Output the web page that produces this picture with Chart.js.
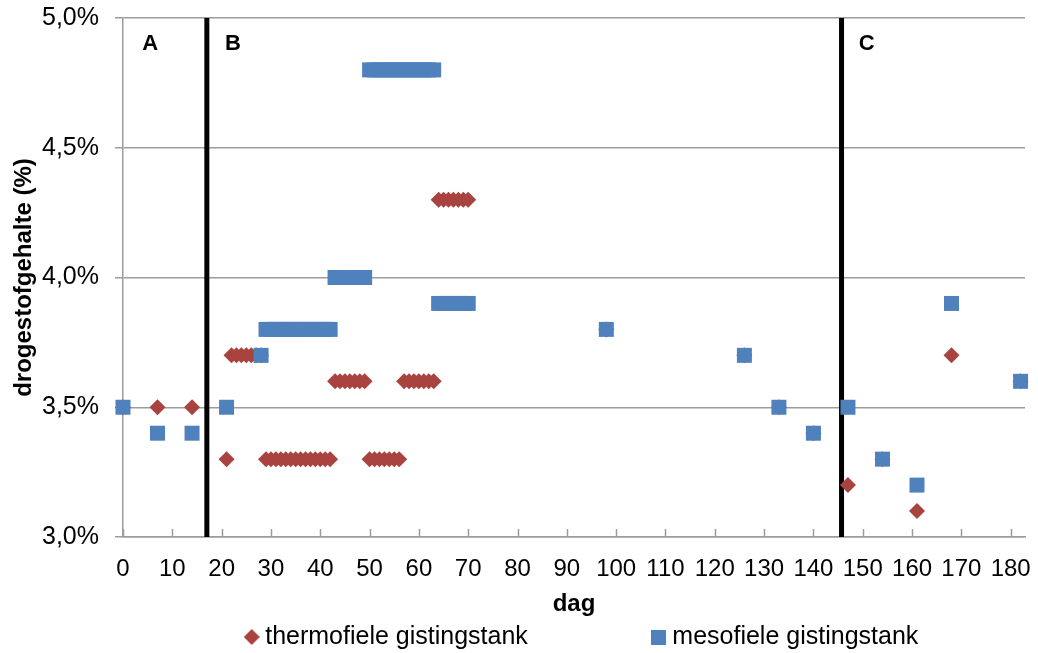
<!DOCTYPE html>
<html>
<head>
<meta charset="utf-8">
<script src="https://cdn.jsdelivr.net/npm/chart.js@4.4.1/dist/chart.umd.min.js"></script>
<style>
  html, body { margin: 0; padding: 0; background: #ffffff; }
  #wrap { width: 1038px; height: 653px; }
</style>
</head>
<body>
<div id="wrap"><canvas id="c" width="1038" height="653"></canvas></div>
<script>
// ---------- data ----------
const seriesNames = ['thermofiele gistingstank', 'mesofiele gistingstank'];

const thermoDays = [0, 7, 14, 21,
  22, 23, 24, 25, 26, 27, 28,
  29, 30, 31, 32, 33, 34, 35, 36, 37, 38, 39, 40, 41, 42,
  43, 44, 45, 46, 47, 48, 49,
  50, 51, 52, 53, 54, 55, 56,
  57, 58, 59, 60, 61, 62, 63,
  64, 65, 66, 67, 68, 69, 70,
  98, 126, 133, 140, 147, 154, 161, 168, 182];
const thermoValues = [3.5, 3.5, 3.5, 3.3,
  3.7, 3.7, 3.7, 3.7, 3.7, 3.7, 3.7,
  3.3, 3.3, 3.3, 3.3, 3.3, 3.3, 3.3, 3.3, 3.3, 3.3, 3.3, 3.3, 3.3, 3.3,
  3.6, 3.6, 3.6, 3.6, 3.6, 3.6, 3.6,
  3.3, 3.3, 3.3, 3.3, 3.3, 3.3, 3.3,
  3.6, 3.6, 3.6, 3.6, 3.6, 3.6, 3.6,
  4.3, 4.3, 4.3, 4.3, 4.3, 4.3, 4.3,
  3.8, 3.7, 3.5, 3.4, 3.2, 3.3, 3.1, 3.7, 3.6];

const mesoDays = [0, 7, 14, 21, 28,
  29, 30, 31, 32, 33, 34, 35, 36, 37, 38, 39, 40, 41, 42,
  43, 44, 45, 46, 47, 48, 49,
  50, 51, 52, 53, 54, 55, 56, 57, 58, 59, 60, 61, 62, 63,
  64, 65, 66, 67, 68, 69, 70,
  98, 126, 133, 140, 147, 154, 161, 168, 182];
const mesoValues = [3.5, 3.4, 3.4, 3.5, 3.7,
  3.8, 3.8, 3.8, 3.8, 3.8, 3.8, 3.8, 3.8, 3.8, 3.8, 3.8, 3.8, 3.8, 3.8,
  4.0, 4.0, 4.0, 4.0, 4.0, 4.0, 4.0,
  4.8, 4.8, 4.8, 4.8, 4.8, 4.8, 4.8, 4.8, 4.8, 4.8, 4.8, 4.8, 4.8, 4.8,
  3.9, 3.9, 3.9, 3.9, 3.9, 3.9, 3.9,
  3.8, 3.7, 3.5, 3.4, 3.5, 3.3, 3.2, 3.9, 3.6];

const xTicks = [0, 10, 20, 30, 40, 50, 60, 70, 80, 90, 100, 110, 120, 130, 140, 150, 160, 170, 180];
const yTicks = [3.0, 3.5, 4.0, 4.5, 5.0];

// phase boundaries (day) and phase labels
const phaseBoundaries = [17, 145.7];
const phaseLabels = ['A', 'B', 'C'];
const phaseLabelDays = [5.5, 22.3, 150.8];
const phaseLabelLevel = 4.9;

const xTitle = 'dag';
const yTitle = 'drogestofgehalte (%)';

// ---------- styling ----------
const FONT = "'Liberation Sans', Arial, sans-serif";
const RED = '#A9433F';
const BLUE = '#4F81BD';
const GRID = '#9C9C9C';

Chart.defaults.font.family = FONT;
Chart.defaults.color = '#000000';

function toPoints(xs, ys) { return xs.map((x, i) => ({ x: x, y: ys[i] })); }

function markerCanvas(kind, color) {
  const c = document.createElement('canvas');
  const s = kind === 'diamond' ? 16 : 15;
  c.width = s; c.height = s;
  const g = c.getContext('2d');
  g.fillStyle = color;
  if (kind === 'diamond') {
    g.beginPath();
    g.moveTo(s / 2, 0); g.lineTo(s, s / 2); g.lineTo(s / 2, s); g.lineTo(0, s / 2);
    g.closePath(); g.fill();
  } else {
    g.fillRect(0, 0, s, s);
  }
  return c;
}
const legendMarkers = [markerCanvas('diamond', RED), markerCanvas('square', BLUE)];

const dividerSets = phaseBoundaries.map(d => ({
  label: '__divider',
  data: [{ x: d, y: yTicks[0] }, { x: d, y: yTicks[yTicks.length - 1] }],
  showLine: true,
  borderColor: '#000000',
  borderWidth: 5,
  pointRadius: 0,
  pointHoverRadius: 0,
  order: 5,
  clip: false
}));

const LEGEND_PAD = 130;
const LEGEND_FONT = 25;
const LEGEND_MID_Y = 637;
const LEGEND_SHIFT_X = 72;

const legendNudge = {
  id: 'legendNudge',
  afterLayout(chart) {
    const lg = chart.legend;
    if (!lg) return;
    lg.top = LEGEND_MID_Y - LEGEND_PAD - LEGEND_FONT / 2;
    lg.bottom = chart.height;
    lg.left += LEGEND_SHIFT_X; lg.right += LEGEND_SHIFT_X;
  }
};

const innerTicks = {
  id: 'innerTicks',
  beforeDatasetsDraw(chart) {
    const xs = chart.scales.x;
    const ctx = chart.ctx;
    const bottom = chart.chartArea.bottom;
    ctx.save();
    ctx.strokeStyle = GRID;
    ctx.lineWidth = 1.5;
    xTicks.forEach(v => {
      const px = Math.round(xs.getPixelForValue(v)) + 0.5;
      ctx.beginPath();
      ctx.moveTo(px, bottom);
      ctx.lineTo(px, bottom - 8);
      ctx.stroke();
    });
    ctx.restore();
  }
};

const phaseText = {
  id: 'phaseText',
  afterDatasetsDraw(chart) {
    const xs = chart.scales.x, ys = chart.scales.y;
    const ctx = chart.ctx;
    ctx.save();
    ctx.font = 'bold 22px ' + FONT;
    ctx.fillStyle = '#000000';
    ctx.textAlign = 'center';
    ctx.textBaseline = 'middle';
    phaseLabels.forEach((t, i) => {
      ctx.fillText(t, xs.getPixelForValue(phaseLabelDays[i]), ys.getPixelForValue(phaseLabelLevel));
    });
    ctx.restore();
  }
};

new Chart(document.getElementById('c'), {
  type: 'scatter',
  data: {
    datasets: [
      {
        label: seriesNames[0],
        data: toPoints(thermoDays, thermoValues),
        pointStyle: 'rectRot',
        pointRadius: 8,
        pointHoverRadius: 8,
        backgroundColor: RED,
        borderColor: RED,
        borderWidth: 0,
        order: 2,
        clip: false
      },
      {
        label: seriesNames[1],
        data: toPoints(mesoDays, mesoValues),
        pointStyle: 'rect',
        pointRadius: 10.6,
        pointHoverRadius: 10.6,
        backgroundColor: BLUE,
        borderColor: BLUE,
        borderWidth: 0,
        order: 1,
        clip: false
      },
      ...dividerSets
    ]
  },
  options: {
    responsive: false,
    animation: false,
    devicePixelRatio: 1,
    events: [],
    layout: { padding: { top: 18, right: 13, bottom: 0, left: 0 } },
    scales: {
      x: {
        type: 'linear',
        min: 0,
        max: 182.9,
        afterBuildTicks: s => { s.ticks = xTicks.map(v => ({ value: v })); },
        afterFit: s => { s.height = 86; s.paddingLeft = 0; s.paddingRight = 0; },
        grid: { display: false, drawTicks: false },
        border: { display: true, color: GRID, width: 1.5 },
        ticks: { font: { size: 24 }, padding: 18, maxRotation: 0, autoSkip: false, color: '#000' },
        title: { display: true, text: xTitle, font: { size: 24, weight: 'bold' }, padding: { top: 0, bottom: 4 }, color: '#000' }
      },
      y: {
        type: 'linear',
        min: 3.0,
        max: 5.0,
        afterBuildTicks: s => { s.ticks = yTicks.map(v => ({ value: v })); },
        afterFit: s => { s.width = 123; s.paddingTop = 0; s.paddingBottom = 0; },
        grid: { color: GRID, lineWidth: 1.5, tickLength: 8, drawTicks: true, drawOnChartArea: true },
        border: { display: true, color: GRID, width: 1.5 },
        ticks: {
          font: { size: 25 }, padding: 16, color: '#000',
          callback: v => v.toFixed(1).replace('.', ',') + '%'
        },
        title: { display: true, text: yTitle, font: { size: 24, weight: 'bold' }, padding: { top: 10, bottom: 0 }, color: '#000' }
      }
    },
    plugins: {
      tooltip: { enabled: false },
      legend: {
        position: 'bottom',
        fullSize: true,
        maxHeight: 30,
        labels: {
          usePointStyle: true,
          boxWidth: 2,
          boxHeight: 15,
          padding: LEGEND_PAD,
          font: { size: LEGEND_FONT },
          color: '#000',
          generateLabels: chart => {
            const items = Chart.defaults.plugins.legend.labels.generateLabels(chart);
            return items
              .filter(it => it.text !== '__divider')
              .sort((a, b) => a.datasetIndex - b.datasetIndex)
              .map(it => { it.pointStyle = legendMarkers[it.datasetIndex]; return it; });
          }
        }
      }
    }
  },
  plugins: [legendNudge, innerTicks, phaseText]
});
</script>
</body>
</html>
